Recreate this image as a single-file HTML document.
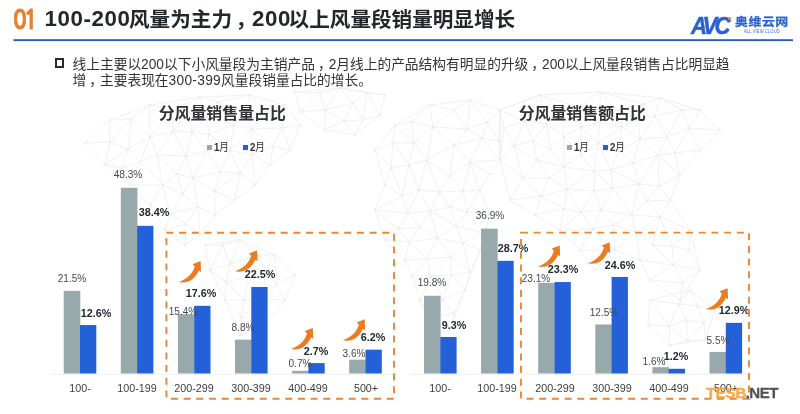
<!DOCTYPE html>
<html lang="zh"><head><meta charset="utf-8"><title>slide</title>
<style>
html,body{margin:0;padding:0}
body{width:800px;height:414px;overflow:hidden;background:#fff;position:relative;font-family:"Liberation Sans","Noto Sans CJK SC",sans-serif;color:#333}
.abs{position:absolute;white-space:nowrap}
.bar{position:absolute}
.g{background:#97a9ab}
.b{background:#2a62d0}
.cat{position:absolute;top:388.3px;font-size:11.2px;color:#3a3d40;line-height:14px;transform:translate(-50%,-50%) scaleX(.96);white-space:nowrap}
.v{position:absolute;font-size:11px;color:#454a4e;line-height:13px;transform:translate(-50%,-50%) scaleX(.915);white-space:nowrap}
.vb{position:absolute;font-size:11px;color:#23292e;font-weight:bold;line-height:13px;transform:translate(-50%,-50%) scaleX(.98);white-space:nowrap}
.d{font-size:22.3px;line-height:20px;letter-spacing:.6px;position:relative;top:-.9px}
.cm{position:relative;left:3px}
.lg{font-size:11px;line-height:14px;color:#2b2f33;transform:scaleX(.87);transform-origin:0 50%}
</style></head><body>
<svg class="abs" style="left:0;top:0" width="800" height="414" viewBox="0 0 800 414">
<path d="M500 110L540 95M500 110L500 160M500 110L504 128M500 110L525 121M500 110L524 101M540 95L600 92M540 95L547 124M540 95L525 121M540 95L579 107M540 95L524 101M540 95L561 109M600 92L660 98M600 92L618 110M600 92L643 104M600 92L600 122M600 92L579 107M660 98L700 110M660 98L643 104M660 98L655 116M660 98L682 110M700 110L720 130M700 110L689 128M700 110L682 110M720 130L700 150M720 130L689 128M700 150L680 175M700 150L689 128M700 150L675 153M680 175L670 200M680 175L659 186M680 175L658 155M680 175L675 153M670 200L690 230M670 200L659 186M670 200L660 217M670 200L647 201M690 230L700 270M690 230L660 217M690 230L672 246M690 230L689 250M700 270L680 300M700 270L673 265M700 270L689 250M700 270L683 283M680 300L650 280M680 300L683 283M650 280L640 260M650 280L673 265M650 280L683 283M640 260L615 250M640 260L653 245M640 260L673 265M640 260L636 232M615 250L595 270M615 250L580 250M615 250L593 229M615 250L636 232M615 250L613 225M595 270L580 250M580 250L560 230M580 250L593 229M560 230L535 215M560 230L593 229M560 230L581 212M560 230L564 209M535 215L510 200M535 215L541 196M535 215L564 209M510 200L500 160M510 200L541 196M510 200L523 178M500 160L504 128M500 160L523 178M500 160L514 146M593 229L581 212M593 229L601 210M593 229L613 225M622 127L618 110M622 127L600 122M622 127L598 143M622 127L640 139M622 127L619 151M622 127L638 120M633 163L658 155M633 163L640 139M633 163L619 151M633 163L611 170M633 163L639 184M504 128L525 121M504 128L514 146M613 188L601 210M613 188L594 171M613 188L632 215M613 188L611 170M613 188L594 191M613 188L639 184M564 167L567 189M564 167L537 160M564 167L594 171M564 167L581 155M564 167L564 137M564 167L549 178M564 167L550 149M653 245L660 217M653 245L673 265M653 245L636 232M653 245L672 246M618 110L643 104M618 110L600 122M618 110L638 120M567 189L541 196M567 189L581 212M567 189L594 171M567 189L594 191M567 189L549 178M567 189L564 209M689 128L682 110M689 128L667 137M689 128L675 153M547 124L525 121M547 124L564 137M547 124L561 109M547 124L533 141M547 124L550 149M643 104L655 116M643 104L638 120M541 196L523 178M541 196L549 178M541 196L564 209M600 122L598 143M600 122L579 107M600 122L581 127M537 160L523 178M537 160L549 178M537 160L514 146M537 160L533 141M537 160L550 149M525 121L524 101M525 121L514 146M525 121L533 141M598 143L581 127M598 143L594 171M598 143L581 155M598 143L619 151M598 143L611 170M655 116L640 139M655 116L682 110M655 116L667 137M655 116L638 120M659 186L658 155M659 186L639 184M659 186L647 201M660 217L632 215M660 217L636 232M660 217L672 246M660 217L647 201M581 212L601 210M581 212L594 191M581 212L564 209M579 107L581 127M579 107L561 109M658 155L640 139M658 155L667 137M658 155L675 153M658 155L639 184M601 210L632 215M601 210L594 191M601 210L613 225M581 127L581 155M581 127L564 137M581 127L561 109M594 171L581 155M594 171L611 170M594 171L594 191M632 215L636 232M632 215L613 225M632 215L639 184M632 215L647 201M581 155L564 137M640 139L619 151M640 139L667 137M640 139L638 120M523 178L549 178M523 178L514 146M673 265L672 246M673 265L689 250M673 265L683 283M619 151L611 170M682 110L667 137M636 232L613 225M667 137L675 153M564 137L561 109M564 137L550 149M672 246L689 250M611 170L639 184M639 184L647 201M514 146L533 141M533 141L550 149M650 300L690 290M650 300L648 325M650 300L669 326M650 300L679 304M690 290L715 310M690 290L679 304M690 290L698 306M715 310L705 340M715 310L698 306M715 310L704 323M705 340L670 345M705 340L688 341M705 340L704 323M670 345L648 325M670 345L669 326M670 345L688 341M648 325L669 326M686 320L669 326M686 320L679 304M686 320L698 306M686 320L688 341M686 320L704 323M669 326L679 304M669 326L688 341M679 304L698 306M698 306L704 323M688 341L704 323M375 150L395 125M375 150L385 185M375 150L393 143M375 150L391 168M395 125L430 105M395 125L412 122M395 125L414 143M395 125L393 143M430 105L470 100M430 105L412 122M430 105L433 127M430 105L454 110M470 100L500 110M470 100L467 129M470 100L487 122M470 100L454 110M500 110L500 160M500 110L487 122M500 110L499 141M500 160L470 162M500 160L482 138M500 160L490 174M500 160L499 141M480 190L490 215M480 190L467 212M480 190L470 162M480 190L490 174M480 190L463 191M490 215L480 250M490 215L467 212M490 215L484 233M480 250L465 290M480 250L484 233M480 250L463 243M480 250L470 272M465 290L450 330M465 290L443 300M465 290L451 275M465 290L470 272M465 290L454 313M450 330L435 335M450 330L430 318M450 330L454 313M435 335L420 300M435 335L430 318M420 300L443 300M420 300L412 276M420 300L430 318M420 300L431 276M405 260L385 240M405 260L427 259M405 260L412 276M405 260L409 242M385 240L375 210M385 240L398 229M385 240L409 242M375 210L385 185M375 210L402 196M375 210L398 229M375 210L408 213M385 185L402 196M385 185L391 168M412 122L414 143M412 122L433 127M402 196L409 165M402 196L419 190M402 196L391 168M402 196L408 213M467 212L484 233M467 212L450 207M467 212L463 191M467 212L456 226M467 129L433 127M467 129L487 122M467 129L482 138M467 129L454 110M467 129L454 145M437 238L427 259M437 238L430 211M437 238L420 227M437 238L463 243M437 238L456 226M437 238L451 257M437 238L409 242M414 143L409 165M414 143L433 127M414 143L427 160M414 143L393 143M409 165L419 190M409 165L427 160M409 165L393 143M409 165L391 168M450 176L427 160M450 176L470 162M450 176L454 145M450 176L463 191M450 176L439 192M433 127L427 160M433 127L454 110M433 127L454 145M427 259L412 276M427 259L431 276M427 259L451 257M427 259L409 242M419 190L430 211M419 190L427 160M419 190L408 213M419 190L439 192M430 211L450 207M430 211L420 227M430 211L456 226M430 211L408 213M430 211L439 192M443 300L451 275M443 300L430 318M443 300L431 276M443 300L454 313M484 233L463 243M484 233L456 226M412 276L431 276M427 160L454 145M427 160L439 192M393 143L391 168M470 162L482 138M470 162L490 174M470 162L454 145M470 162L463 191M487 122L482 138M487 122L499 141M398 229L420 227M398 229L408 213M398 229L409 242M482 138L454 145M482 138L499 141M450 207L463 191M450 207L456 226M450 207L439 192M420 227L408 213M420 227L409 242M451 275L470 272M451 275L431 276M451 275L451 257M463 243L470 272M463 243L456 226M463 243L451 257M430 318L454 313M470 272L451 257M431 276L451 257M463 191L439 192M295 92L340 88M295 92L300 112M295 92L320 93M340 88L385 95M340 88L353 103M340 88L325 110M340 88L320 93M340 88L367 93M385 95L380 115M385 95L367 93M380 115L355 135M380 115L367 93M380 115L363 120M355 135L325 130M355 135L344 121M355 135L363 120M325 130L300 112M325 130L325 110M325 130L344 121M300 112L325 110M300 112L320 93M353 103L325 110M353 103L344 121M353 103L367 93M353 103L363 120M325 110L320 93M325 110L344 121M344 121L363 120M367 93L363 120M85 143L110 120M85 143L105 165M85 143L110 142M110 120L150 105M110 120L131 119M110 120L110 142M150 105L200 97M150 105L150 137M150 105L131 119M150 105L172 110M200 97L250 95M200 97L217 102M200 97L172 110M200 97L207 117M200 97L188 114M250 95L285 105M250 95L217 102M250 95L266 112M250 95L246 112M285 105L300 125M285 105L266 112M285 105L282 128M300 125L290 150M300 125L282 128M290 150L270 165M290 150L273 147M290 150L282 128M270 165L255 185M270 165L273 147M270 165L252 154M255 185L235 200M255 185L252 154M255 185L240 173M235 200L215 215M235 200L215 191M235 200L240 173M215 215L200 235M215 215L215 191M215 215L198 207M200 235L185 245M200 235L186 224M200 235L198 207M185 245L165 230M185 245L186 224M165 230L150 205M165 230L170 214M165 230L186 224M150 205L130 185M150 205L163 185M150 205L170 214M130 185L105 165M130 185L140 162M130 185L163 185M130 185L122 168M105 165L128 149M105 165L110 142M105 165L122 168M252 129L234 125M252 129L273 147M252 129L266 112M252 129L230 151M252 129L252 154M252 129L282 128M252 129L246 112M150 137L140 162M150 137L131 119M150 137L172 110M150 137L173 131M150 137L128 149M150 137L157 155M140 162L163 185M140 162L128 149M140 162L157 155M140 162L122 168M193 178L220 172M193 178L215 191M193 178L207 151M193 178L177 174M193 178L183 194M193 178L186 156M193 178L198 207M131 119L128 149M131 119L110 142M217 102L234 125M217 102L207 117M217 102L246 112M220 172L215 191M220 172L207 151M220 172L230 151M220 172L240 173M192 132L207 117M192 132L207 151M192 132L173 131M192 132L186 156M192 132L188 114M192 132L209 134M234 125L207 117M234 125L230 151M234 125L246 112M234 125L209 134M163 185L177 174M163 185L157 155M163 185L183 194M163 185L170 214M215 191L240 173M215 191L198 207M172 110L173 131M172 110L188 114M207 117L188 114M207 117L209 134M207 151L230 151M207 151L186 156M207 151L209 134M173 131L157 155M173 131L186 156M173 131L188 114M177 174L157 155M177 174L183 194M177 174L186 156M273 147L252 154M273 147L282 128M128 149L110 142M128 149L122 168M157 155L186 156M266 112L282 128M266 112L246 112M183 194L170 214M183 194L198 207M230 151L252 154M230 151L240 173M230 151L209 134M252 154L240 173M170 214L186 224M170 214L198 207M186 224L198 207M205 245L240 240M205 245L210 270M205 245L223 245M240 240L275 255M240 240L230 264M240 240L258 255M240 240L223 245M275 255L295 275M275 255L258 255M275 255L276 284M275 255L265 271M295 275L285 300M295 275L276 284M285 300L265 325M285 300L263 299M285 300L276 284M265 325L250 350M265 325L240 335M265 325L263 299M265 325L241 317M250 350L240 335M240 335L225 300M240 335L241 317M225 300L210 270M225 300L244 300M225 300L241 317M225 300L226 282M210 270L230 264M210 270L226 282M210 270L223 245M263 299L248 277M263 299L244 300M263 299L241 317M263 299L276 284M263 299L265 271M248 277L230 264M248 277L258 255M248 277L244 300M248 277L226 282M248 277L265 271M230 264L258 255M230 264L226 282M230 264L223 245M258 255L265 271M244 300L241 317M244 300L226 282M276 284L265 271" stroke="#efefef" stroke-width=".9" fill="none"/>
<path d="M85 143h.01M110 120h.01M150 105h.01M200 97h.01M250 95h.01M285 105h.01M300 125h.01M290 150h.01M270 165h.01M255 185h.01M235 200h.01M215 215h.01M200 235h.01M185 245h.01M165 230h.01M150 205h.01M130 185h.01M105 165h.01M252 129h.01M150 137h.01M140 162h.01M193 178h.01M131 119h.01M217 102h.01M220 172h.01M192 132h.01M234 125h.01M163 185h.01M215 191h.01M172 110h.01M207 117h.01M207 151h.01M173 131h.01M177 174h.01M273 147h.01M128 149h.01M157 155h.01M266 112h.01M183 194h.01M230 151h.01M252 154h.01M282 128h.01M170 214h.01M186 156h.01M240 173h.01M110 142h.01M186 224h.01M122 168h.01M198 207h.01M246 112h.01M188 114h.01M209 134h.01M295 92h.01M340 88h.01M385 95h.01M380 115h.01M355 135h.01M325 130h.01M300 112h.01M353 103h.01M325 110h.01M320 93h.01M344 121h.01M367 93h.01M363 120h.01M205 245h.01M240 240h.01M275 255h.01M295 275h.01M285 300h.01M265 325h.01M250 350h.01M240 335h.01M225 300h.01M210 270h.01M263 299h.01M248 277h.01M230 264h.01M258 255h.01M244 300h.01M241 317h.01M276 284h.01M226 282h.01M223 245h.01M265 271h.01M375 150h.01M395 125h.01M430 105h.01M470 100h.01M500 110h.01M500 160h.01M480 190h.01M490 215h.01M480 250h.01M465 290h.01M450 330h.01M435 335h.01M420 300h.01M405 260h.01M385 240h.01M375 210h.01M385 185h.01M412 122h.01M402 196h.01M467 212h.01M467 129h.01M437 238h.01M414 143h.01M409 165h.01M450 176h.01M433 127h.01M427 259h.01M419 190h.01M430 211h.01M443 300h.01M484 233h.01M412 276h.01M427 160h.01M393 143h.01M470 162h.01M487 122h.01M398 229h.01M482 138h.01M450 207h.01M420 227h.01M451 275h.01M490 174h.01M454 110h.01M454 145h.01M463 243h.01M430 318h.01M391 168h.01M470 272h.01M431 276h.01M463 191h.01M456 226h.01M499 141h.01M408 213h.01M451 257h.01M409 242h.01M454 313h.01M439 192h.01M500 110h.01M540 95h.01M600 92h.01M660 98h.01M700 110h.01M720 130h.01M700 150h.01M680 175h.01M670 200h.01M690 230h.01M700 270h.01M680 300h.01M650 280h.01M640 260h.01M615 250h.01M595 270h.01M580 250h.01M560 230h.01M535 215h.01M510 200h.01M500 160h.01M593 229h.01M622 127h.01M633 163h.01M504 128h.01M613 188h.01M564 167h.01M653 245h.01M618 110h.01M567 189h.01M689 128h.01M547 124h.01M643 104h.01M541 196h.01M600 122h.01M537 160h.01M525 121h.01M598 143h.01M655 116h.01M659 186h.01M660 217h.01M581 212h.01M579 107h.01M658 155h.01M601 210h.01M581 127h.01M594 171h.01M632 215h.01M581 155h.01M640 139h.01M523 178h.01M673 265h.01M619 151h.01M682 110h.01M636 232h.01M667 137h.01M564 137h.01M672 246h.01M611 170h.01M675 153h.01M594 191h.01M613 225h.01M549 178h.01M689 250h.01M639 184h.01M524 101h.01M514 146h.01M638 120h.01M561 109h.01M533 141h.01M647 201h.01M683 283h.01M564 209h.01M550 149h.01M650 300h.01M690 290h.01M715 310h.01M705 340h.01M670 345h.01M648 325h.01M686 320h.01M669 326h.01M679 304h.01M698 306h.01M688 341h.01M704 323h.01" stroke="#e9e9e9" stroke-width="2" stroke-linecap="round" fill="none"/>
<rect x="13.5" y="39.2" width="779.5" height="1.9" fill="#2d5cb4"/>
<path d="M50 374.3H396M410 374.3H755" stroke="#efefef" stroke-width="1"/>
<rect x="63.70" y="290.83" width="16.60" height="82.67" fill="#97a9ab"/>
<rect x="80.00" y="325.05" width="16.30" height="48.45" fill="#2461d8"/>
<rect x="120.80" y="187.79" width="16.60" height="185.71" fill="#97a9ab"/>
<rect x="137.10" y="225.85" width="16.30" height="147.65" fill="#2461d8"/>
<rect x="177.90" y="314.29" width="16.60" height="59.21" fill="#97a9ab"/>
<rect x="194.20" y="305.83" width="16.30" height="67.67" fill="#2461d8"/>
<rect x="235.00" y="339.66" width="16.60" height="33.84" fill="#97a9ab"/>
<rect x="251.30" y="286.99" width="16.30" height="86.51" fill="#2461d8"/>
<rect x="292.10" y="370.81" width="16.60" height="2.69" fill="#97a9ab"/>
<rect x="308.40" y="363.12" width="16.30" height="10.38" fill="#2461d8"/>
<rect x="349.20" y="359.66" width="16.60" height="13.84" fill="#97a9ab"/>
<rect x="365.50" y="349.66" width="16.30" height="23.84" fill="#2461d8"/>
<rect x="424.00" y="295.78" width="16.60" height="77.72" fill="#97a9ab"/>
<rect x="440.30" y="337.00" width="16.30" height="36.50" fill="#2461d8"/>
<rect x="481.10" y="228.67" width="16.60" height="144.83" fill="#97a9ab"/>
<rect x="497.40" y="260.85" width="16.30" height="112.65" fill="#2461d8"/>
<rect x="538.20" y="282.83" width="16.60" height="90.67" fill="#97a9ab"/>
<rect x="554.50" y="282.05" width="16.30" height="91.45" fill="#2461d8"/>
<rect x="595.30" y="324.44" width="16.60" height="49.06" fill="#97a9ab"/>
<rect x="611.60" y="276.94" width="16.30" height="96.56" fill="#2461d8"/>
<rect x="652.40" y="367.22" width="16.60" height="6.28" fill="#97a9ab"/>
<rect x="668.70" y="368.79" width="16.30" height="4.71" fill="#2461d8"/>
<rect x="709.50" y="351.91" width="16.60" height="21.59" fill="#97a9ab"/>
<rect x="725.80" y="322.87" width="16.30" height="50.63" fill="#2461d8"/>
</svg>
<div class="abs" id="num" style="-webkit-text-stroke:.8px #e5812f;left:12.5px;top:4.5px;font-family:NanumGothic,'Liberation Sans',sans-serif;font-size:26.2px;line-height:30px;font-weight:bold;color:#e5812f;letter-spacing:-3.4px;transform:scale(.87,1);transform-origin:0 0">01</div>
<div class="abs" id="title" style="left:44.5px;top:5.8px;font-size:20.6px;line-height:28px;font-weight:bold;color:#22272b"><span class="d" style="margin-right:-1.5px">100-200</span>风量为主力<span style="position:relative;left:3.5px">，</span><span class="d" style="margin-left:-.5px;margin-right:-2.5px">200</span>以上风量段销量明显增长</div>

<div class="abs" id="avc" style="left:690.5px;top:10.5px;font-size:23.3px;line-height:30px;font-weight:bold;font-style:italic;color:#2a62d0;letter-spacing:-3px;transform:scaleX(.95);transform-origin:0 0;-webkit-text-stroke:.5px #2a62d0">AVC</div>
<div class="abs" style="left:727.5px;top:16.5px;width:3px;height:3px;border-radius:50%;background:#ee7c2b"></div>
<div class="abs" id="avcn" style="-webkit-text-stroke:.25px #2a62d0;left:735px;top:12.5px;font-size:11.5px;line-height:18px;font-weight:bold;color:#2a62d0;letter-spacing:.5px;transform:scaleX(1.12);transform-origin:0 0">奥维云网</div>
<div class="abs" id="avce" style="left:744.3px;top:28px;font-size:5.2px;line-height:6px;color:#3f6fd0;letter-spacing:.1px;transform:scaleX(.8);transform-origin:0 0">ALL VIEW CLOUD</div>

<div class="abs" style="left:55px;top:58px;width:5.3px;height:5.7px;border:2px solid #2b2b2b"></div>
<div class="abs" id="p1" style="left:72.5px;top:56.5px;font-size:13.73px;line-height:15px;color:#333">线上主要以200以下小风量段为主销产品<span class="cm">，</span>2月线上的产品结构有明显的升级<span class="cm">，</span>200以上风量段销售占比明显趋</div>
<div class="abs" id="p2" style="left:72.5px;top:73px;font-size:13.73px;line-height:15px;color:#333">增<span class="cm">，</span>主要表现在<span style="letter-spacing:.3px">300-399</span>风量段销量占比的增长。</div>

<div class="abs" id="t1" style="left:158.7px;top:102.6px;font-size:15.9px;line-height:22px;font-weight:bold;color:#2e3338">分风量销售量占比</div>
<div class="abs" id="t2" style="left:518.7px;top:102.6px;font-size:15.9px;line-height:22px;font-weight:bold;color:#2e3338">分风量销售额占比</div>

<div class="abs" style="left:206.8px;top:145.2px;width:5px;height:5px;background:#97a9ab"></div>
<div class="abs lg" style="left:214.2px;top:140.3px"><b>1</b>月</div>
<div class="abs" style="left:242.8px;top:145.2px;width:5px;height:5px;background:#2461d8"></div>
<div class="abs lg" style="left:249.8px;top:140.3px"><b>2</b>月</div>

<div class="abs" style="left:566.8px;top:145.2px;width:5px;height:5px;background:#97a9ab"></div>
<div class="abs lg" style="left:574.2px;top:140.3px"><b>1</b>月</div>
<div class="abs" style="left:602.8px;top:145.2px;width:5px;height:5px;background:#2461d8"></div>
<div class="abs lg" style="left:609.8px;top:140.3px"><b>2</b>月</div>

<div class="cat" style="left:80.0px">100-</div>
<div class="cat" style="left:137.1px">100-199</div>
<div class="cat" style="left:194.2px">200-299</div>
<div class="cat" style="left:251.3px">300-399</div>
<div class="cat" style="left:308.4px">400-499</div>
<div class="cat" style="left:365.5px">500+</div>
<div class="cat" style="left:440.3px">100-</div>
<div class="cat" style="left:497.4px">100-199</div>
<div class="cat" style="left:554.5px">200-299</div>
<div class="cat" style="left:611.6px">300-399</div>
<div class="cat" style="left:668.7px">400-499</div>
<div class="cat" style="left:725.8px">500+</div>
<div class="v" style="left:71.6px;top:277.8px">21.5%</div>
<div class="vb" style="left:96.2px;top:313px">12.6%</div>
<div class="v" style="left:128.2px;top:174.3px">48.3%</div>
<div class="vb" style="left:153.6px;top:212.1px">38.4%</div>
<div class="v" style="left:183.3px;top:310.9px">15.4%</div>
<div class="vb" style="left:201.2px;top:293.3px">17.6%</div>
<div class="v" style="left:242.5px;top:326.5px">8.8%</div>
<div class="vb" style="left:259.8px;top:273.8px">22.5%</div>
<div class="v" style="left:300.2px;top:362.5px">0.7%</div>
<div class="vb" style="left:316.4px;top:350.7px">2.7%</div>
<div class="v" style="left:354.2px;top:353px">3.6%</div>
<div class="vb" style="left:373.3px;top:336.6px">6.2%</div>
<div class="v" style="left:432px;top:282.3px">19.8%</div>
<div class="vb" style="left:454px;top:325px">9.3%</div>
<div class="v" style="left:489.9px;top:215.3px">36.9%</div>
<div class="vb" style="left:513px;top:247.5px">28.7%</div>
<div class="v" style="left:535.9px;top:278px">23.1%</div>
<div class="vb" style="left:562.7px;top:269.3px">23.3%</div>
<div class="v" style="left:603.7px;top:311.5px">12.5%</div>
<div class="vb" style="left:619.5px;top:265px">24.6%</div>
<div class="v" style="left:654.4px;top:360.7px">1.6%</div>
<div class="vb" style="left:676.1px;top:356.3px">1.2%</div>
<div class="v" style="left:717.5px;top:340px">5.5%</div>
<div class="vb" style="left:733.7px;top:309.5px">12.9%</div>

<svg class="abs" style="left:0;top:0" width="800" height="414" viewBox="0 0 800 414">
<rect x="166.4" y="232.8" width="227.6" height="165.9" fill="none" stroke="#e8863a" stroke-width="1.9" stroke-dasharray="7 5.7"/>
<rect x="521" y="232.6" width="228" height="166.1" fill="none" stroke="#e8863a" stroke-width="1.9" stroke-dasharray="7 5.7"/>
<path transform="translate(178.6 282.1)" d="M0,0 C8,1.5 15.5,-1 20.3,-11.5 L22.5,-10 L22,-21 L14,-17.9 L16.2,-15.5 C13.7,-7.5 7,-2 0,0 Z" fill="#ea7d22"/>
<path transform="translate(235 271.3)" d="M0,0 C8,1.5 15.5,-1 20.3,-11.5 L22.5,-10 L22,-21 L14,-17.9 L16.2,-15.5 C13.7,-7.5 7,-2 0,0 Z" fill="#ea7d22"/>
<path transform="translate(290.8 349)" d="M0,0 C8,1.5 15.5,-1 20.3,-11.5 L22.5,-10 L22,-21 L14,-17.9 L16.2,-15.5 C13.7,-7.5 7,-2 0,0 Z" fill="#ea7d22"/>
<path transform="translate(342.7 340.3)" d="M0,0 C8,1.5 15.5,-1 20.3,-11.5 L22.5,-10 L22,-21 L14,-17.9 L16.2,-15.5 C13.7,-7.5 7,-2 0,0 Z" fill="#ea7d22"/>
<path transform="translate(537.7 266.5)" d="M0,0 C8,1.5 15.5,-1 20.3,-11.5 L22.5,-10 L22,-21 L14,-17.9 L16.2,-15.5 C13.7,-7.5 7,-2 0,0 Z" fill="#ea7d22"/>
<path transform="translate(587.7 263.3)" d="M0,0 C8,1.5 15.5,-1 20.3,-11.5 L22.5,-10 L22,-21 L14,-17.9 L16.2,-15.5 C13.7,-7.5 7,-2 0,0 Z" fill="#ea7d22"/>
<path transform="translate(705.6 309.2)" d="M0,0 C8,1.5 15.5,-1 20.3,-11.5 L22.5,-10 L22,-21 L14,-17.9 L16.2,-15.5 C13.7,-7.5 7,-2 0,0 Z" fill="#ea7d22"/>
</svg>
<div class="abs" id="wm" style="left:706.3px;top:384px;font-size:15px;line-height:18px;font-weight:bold;opacity:.93"><span style="color:#f5a63d;-webkit-text-stroke:.5px #f5a63d">TESB</span><span style="color:#454545;letter-spacing:-.5px;margin-left:-.7px;-webkit-text-stroke:.3px #454545">.NET</span></div>
</body></html>
